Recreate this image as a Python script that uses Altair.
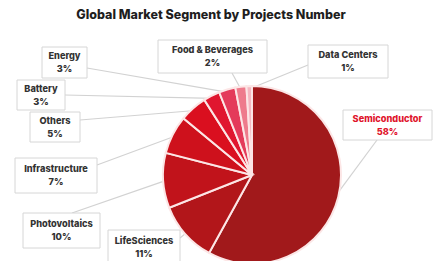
import altair as alt
import numpy as np
import pandas as pd

# ---- data ----
categories = ["Semiconductor", "LifeSciences", "Photovoltaics", "Infrastructure",
              "Others", "Battery", "Energy", "Food & Beverages", "Data Centers"]
values = [58, 11, 10, 7, 5, 3, 3, 2, 1]
title_text = "Global Market Segment by Projects Number"

# ---- styles ----
colors = ["#A1191B", "#B2161A", "#C1131B", "#CE111C", "#DA0F1F", "#E0162F",
          "#E43A5A", "#EE7B8C", "#F5B8C1"]
text_colors = ["#E0142C"] + ["#333333"] * 8

# ---- layout (image pixel coordinates) ----
W, H, M = 442, 269, 8
pie_cx, pie_cy, pie_r = 252, 175, 89
box_x1 = [343, 108, 23, 15, 30, 17, 42, 158, 308]
box_x2 = [432, 180, 100, 97, 80, 65, 87, 267, 388]
box_y1 = [110, 230, 213, 158, 112, 80, 47, 40, 45]
box_y2 = [140, 265, 248, 193, 142, 110, 78, 73, 78]
attach_x = [377, 180, 72, 97, 80, 65, 87, 232, 308]
attach_y = [140, 238, 213, 165, 120, 95, 68, 73, 65]

vals = np.array(values, dtype=float)
cum = np.cumsum(vals)
mid = (cum - vals / 2) / vals.sum() * 2 * np.pi
edge_x = pie_cx + (pie_r - 3) * np.sin(mid)
edge_y = pie_cy - (pie_r - 3) * np.cos(mid)

slices = pd.DataFrame({"category": categories, "value": values,
                       "order": list(range(len(categories)))})
labels = pd.DataFrame({
    "category": categories,
    "pct": [f"{v}%" for v in values],
    "x1": box_x1, "x2": box_x2, "y1": box_y1, "y2": box_y2,
    "ax": attach_x, "ay": attach_y, "ex": edge_x, "ey": edge_y,
    "tcolor": text_colors,
})
labels["cx"] = (labels["x1"] + labels["x2"]) / 2
labels["cy"] = (labels["y1"] + labels["y2"]) / 2
labels["ny"] = labels["cy"] - 6.5
labels["py"] = labels["cy"] + 6.5

xs = alt.Scale(domain=[M, W - M], nice=False, zero=False)
ys = alt.Scale(domain=[M, H - M], nice=False, zero=False, reverse=True)

base = alt.Chart(labels)

lines = base.mark_rule(color="#D2D2D2", strokeWidth=1.2).encode(
    x=alt.X("ax:Q", scale=xs, axis=None), y=alt.Y("ay:Q", scale=ys, axis=None),
    x2="ex:Q", y2="ey:Q")

pie = alt.Chart(slices).mark_arc(radius=pie_r, stroke="#FCE6E6", strokeWidth=2).encode(
    theta=alt.Theta("value:Q", stack=True),
    color=alt.Color("category:N", scale=alt.Scale(domain=categories, range=colors), legend=None),
    order=alt.Order("order:Q"),
    x=alt.value(pie_cx - M), y=alt.value(pie_cy - M))

boxes = base.mark_rect(fill="white", stroke="#D6D6D6", strokeWidth=1).encode(
    x=alt.X("x1:Q", scale=xs, axis=None), x2="x2:Q",
    y=alt.Y("y1:Q", scale=ys, axis=None), y2="y2:Q")

names = base.mark_text(font="Inter", fontWeight=800, fontSize=9.2, baseline="middle").encode(
    x=alt.X("cx:Q", scale=xs, axis=None), y=alt.Y("ny:Q", scale=ys, axis=None),
    text="category:N", color=alt.Color("tcolor:N", scale=None))

pcts = base.mark_text(font="Inter", fontWeight=800, fontSize=9.2, baseline="middle").encode(
    x=alt.X("cx:Q", scale=xs, axis=None), y=alt.Y("py:Q", scale=ys, axis=None),
    text="pct:N", color=alt.Color("tcolor:N", scale=None))

title = alt.Chart(pd.DataFrame({"t": [title_text]})).mark_text(
    font="Inter", fontWeight=800, fontSize=12.5, color="#1E1E1E", baseline="middle").encode(
    x=alt.value(211 - M), y=alt.value(15 - M), text="t:N")

chart = alt.layer(lines, pie, boxes, names, pcts, title).properties(
    width=W - 2 * M, height=H - 2 * M, padding=0,
    autosize=alt.AutoSizeParams(type="none"),
).configure_view(stroke=None)

chart.save("out.html", embed_options={"renderer": "svg", "actions": False})
